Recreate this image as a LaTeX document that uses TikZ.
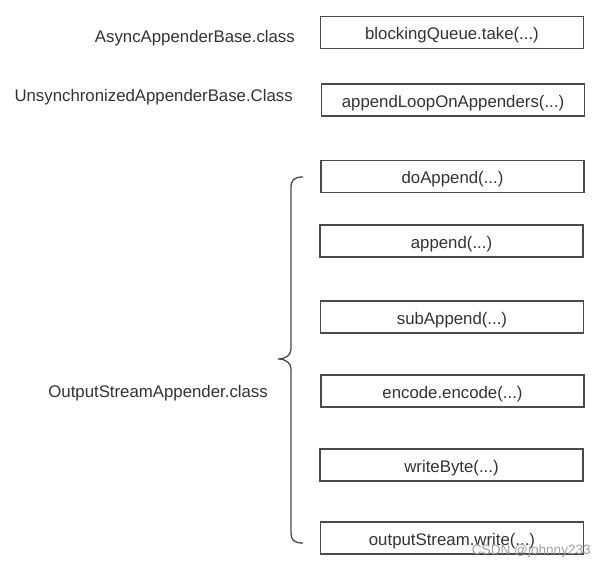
\documentclass[tikz,border=0pt]{standalone}
\usepackage{fontspec}
\setmainfont{Liberation Sans}
\definecolor{txt}{HTML}{333333}
\definecolor{edge}{HTML}{4A4A4A}
\definecolor{wm}{HTML}{A0A0A0}
\begin{document}
\begin{tikzpicture}[x=1pt,y=-1pt,
  callbox/.style={draw=edge,line width=1.3pt,minimum width=263pt,minimum height=32pt,inner sep=0pt,text height=14.5pt,text depth=0pt,text=txt,font=\fontsize{16.8}{20}\selectfont},
  classlabel/.style={text=txt,inner sep=0pt,font=\fontsize{16.8}{20}\selectfont},
  bracestyle/.style={draw=edge,line width=1.3pt}]
\useasboundingbox[fill=white] (0,0) rectangle (606,567);
\node[callbox] (b1) at (452,32.5) {blockingQueue.take(...)};
\node[callbox] (b2) at (453,100) {appendLoopOnAppenders(...)};
\node[callbox] (b3) at (452.5,176.5) {doAppend(...)};
\node[callbox] (b4) at (451.5,241) {append(...)};
\node[callbox] (b5) at (452,317) {subAppend(...)};
\node[callbox] (b6) at (452.5,391) {encode.encode(...)};
\node[callbox] (b7) at (451.5,465) {writeByte(...)};
\node[callbox] (b8) at (452,538) {outputStream.write(...)};
\node[classlabel,anchor=base east] (l1) at (295,43) {AsyncAppenderBase.class};
\node[classlabel,anchor=base east] (l2) at (293,102) {UnsynchronizedAppenderBase.Class};
\node[classlabel,anchor=base east] (l3) at (268,397) {OutputStreamAppender.class};
\coordinate (bt) at (303,177);
\coordinate (bb) at (303,543);
\path[bracestyle] (bt) .. controls (294,177) and (291,180) .. (291,188) -- (291,349)
  .. controls (291,355) and (286,359) .. (278,359)
  .. controls (286,359) and (291,363) .. (291,369) -- (291,533)
  .. controls (291,540) and (294,543) .. (bb);
\node[text=wm,inner sep=0pt,anchor=base east,font=\fontsize{13.6}{16}\selectfont] (wmark) at (591,554) {CSDN @johnny233};
\end{tikzpicture}
\end{document}
